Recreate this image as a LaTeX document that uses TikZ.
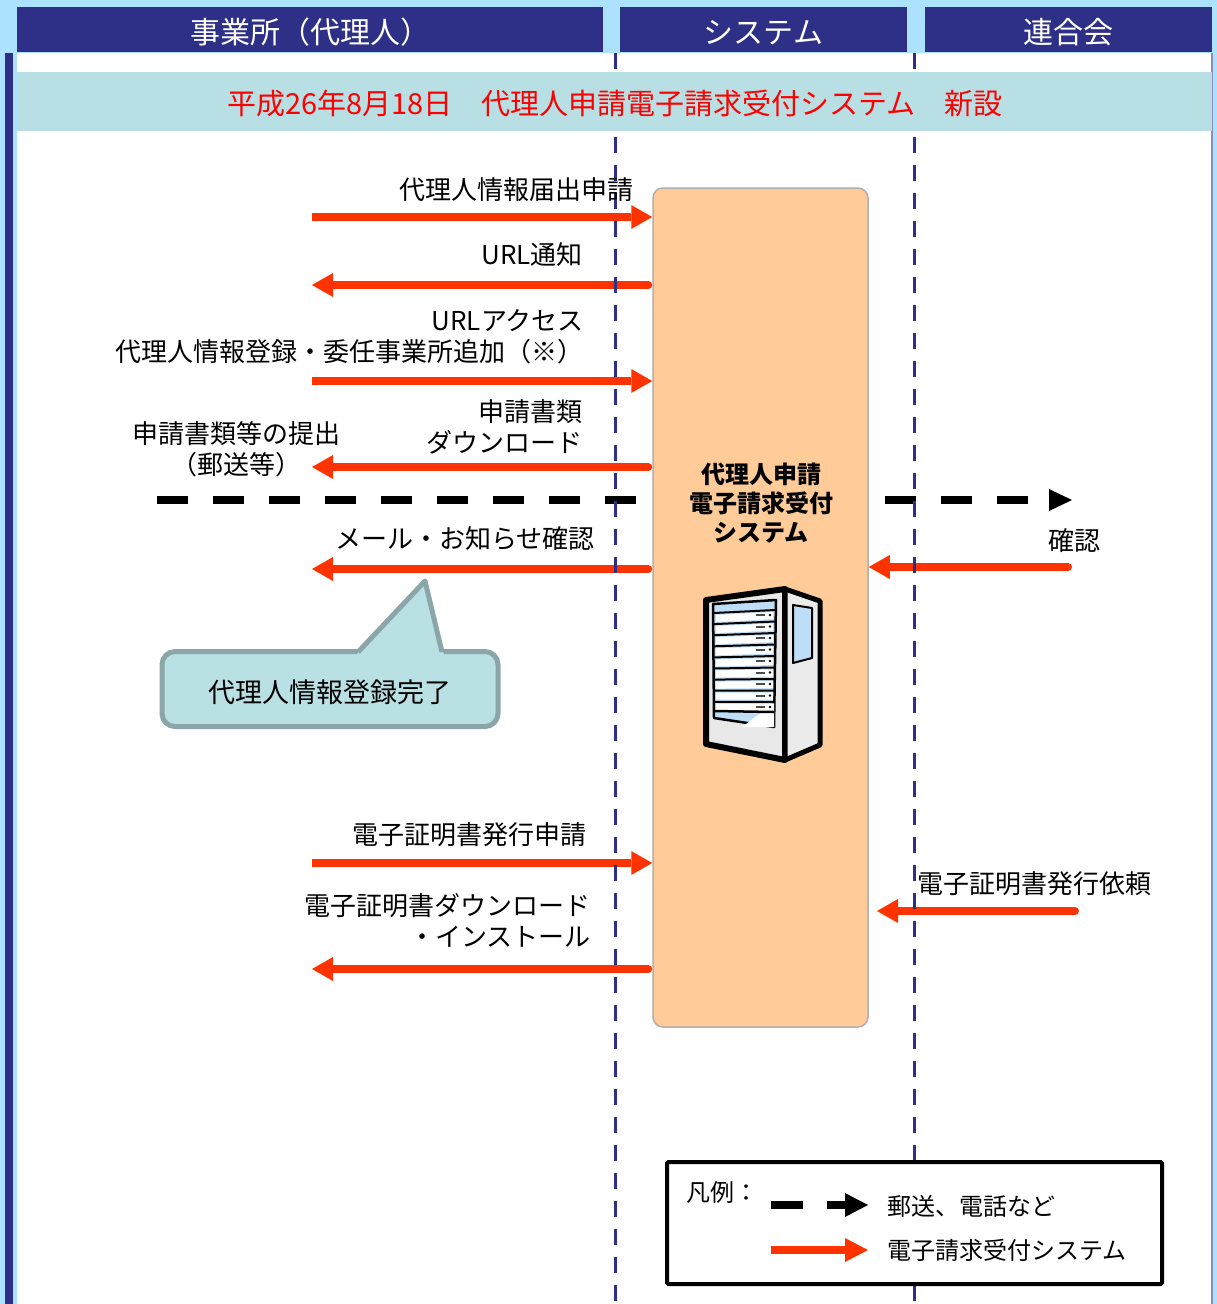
\documentclass[tikz,border=0pt]{standalone}
\usepackage{fontspec}
\setmainfont{Noto Sans CJK JP}
\usetikzlibrary{arrows.meta}
\definecolor{bgblue}{RGB}{173,226,255}
\definecolor{navy}{RGB}{46,48,135}
\definecolor{band}{RGB}{184,224,228}
\definecolor{arr}{RGB}{255,51,0}
\definecolor{peach}{RGB}{255,204,153}
\definecolor{boxline}{RGB}{175,175,175}
\definecolor{cfill}{RGB}{185,224,227}
\definecolor{cline}{RGB}{139,166,168}
\definecolor{srvblue}{RGB}{190,222,248}
\definecolor{srvgray}{RGB}{232,232,232}
\definecolor{titlered}{RGB}{255,0,0}
\newcommand{\lowertxt}[1]{\raisebox{-3pt}[\height][\depth]{#1}}
\begin{document}
\begin{tikzpicture}[x=1pt,y=-1pt,
  hdr/.style={fill=navy,text=white,font=\fontsize{30}{36}\selectfont,inner sep=0pt,minimum height=45pt},
  lbl/.style={inner sep=0pt,font=\fontsize{26}{31}\selectfont},
  lgfont/.style={inner sep=0pt,font=\fontsize{24}{29}\selectfont},
  redarrow/.style={draw=arr,line width=8pt,line cap=round,-{Triangle[length=21pt,width=24pt,line width=0pt]}},
  redright/.style={redarrow,line cap=butt},
  redleft/.style={redarrow,shorten <=4pt},
  blackdash/.style={draw=black,line width=8.5pt,dash pattern=on 31pt off 25pt,-{Triangle[length=23pt,width=22pt,line width=0pt]}},
  vline/.style={draw=navy,line width=3.5pt,dash pattern=on 16pt off 12pt}
]
\useasboundingbox (0,0) rectangle (1217,1304);
% background
\fill[bgblue] (0,0) rectangle (1217,1304);
\fill[white] (17,53) rectangle (1211,1304);
\fill[navy] (5,53) rectangle (13,1304);
\fill[navy!55] (1211,53) rectangle (1213,1304);
% headers
\node[hdr,minimum width=586pt] (h1) at (310,29.5) {\lowertxt{事業所（代理人）}};
\node[hdr,minimum width=287pt] (h2) at (763.5,29.5) {\lowertxt{システム}};
\node[hdr,minimum width=287pt] (h3) at (1068.5,29.5) {\lowertxt{連合会}};
% black dashed arrow (behind system box)
\coordinate (d0) at (157,500);
\coordinate (d1) at (1072,500);
\draw[blackdash] (d0) -- (d1);
% system box
\node[draw=boxline,fill=peach,line width=1.5pt,rounded corners=10pt,minimum width=215pt,minimum height=839pt,inner sep=0pt] (sys) at (760.5,607.5) {};
\node[inner sep=0pt,align=center,font=\bfseries\fontsize{24}{29}\selectfont] (systxt) at (761,503) {代理人申請\\電子請求受付\\システム};
% server icon
\begin{scope}[line join=round]
\filldraw[fill=srvgray,draw=black,line width=6pt] (706,600) -- (785,589) -- (785,760) -- (706,744) -- cycle;
\filldraw[fill=white!92!black,draw=black,line width=5pt] (785,589) -- (820,601) -- (820,745) -- (785,760) -- cycle;
\filldraw[fill=srvblue,draw=black,line width=2pt] (793,605) -- (812,608) -- (812,658) -- (793,663) -- cycle;
\filldraw[fill=srvblue,draw=black,line width=2.5pt] (713,604) -- (776,600) -- (774,727) -- (714,718) -- cycle;
\fill[white] (742,727) -- (774,703) -- (774,727) -- cycle;
\foreach \i in {0,...,8}{
  \pgfmathsetmacro{\yl}{613+11.1*\i}
  \pgfmathsetmacro{\yr}{610+11.5*\i}
  \fill[white] (716,\yl+2) -- (773,\yr+2) -- (773,\yr+9) -- (716,\yl+9) -- cycle;
  \draw[black,line width=2pt] (714,\yl) -- (775,\yr);
  \draw[black!70,line width=2pt] (756,\yr+5) -- (765,\yr+5);
  \fill[black] (770,\yr+5) circle (1.3pt);
}
\draw[black,line width=2.5pt] (714,711) -- (774,712);
\end{scope}
% red arrows
\coordinate (a1) at (312,217);
\draw[redright] (a1) -- (a1 -| sys.west);
\coordinate (a2) at (312,285);
\draw[redleft] (a2 -| sys.west) -- (a2);
\coordinate (a3) at (312,381);
\draw[redright] (a3) -- (a3 -| sys.west);
\coordinate (a4) at (312,467);
\draw[redleft] (a4 -| sys.west) -- (a4);
\coordinate (a5) at (312,569);
\draw[redleft] (a5 -| sys.west) -- (a5);
\coordinate (b1) at (1068,567);
\draw[redarrow] (b1) -- (b1 -| sys.east);
\coordinate (a7) at (312,863);
\draw[redright] (a7) -- (a7 -| sys.west);
\coordinate (b2) at (1075,911);
\coordinate (b2e) at (877,911);
\draw[redarrow] (b2) -- (b2e);
\coordinate (a9) at (312,969);
\draw[redleft] (a9 -| sys.west) -- (a9);
% vertical dashed lanes
\coordinate (v1t) at (615.5,53);
\coordinate (v1b) at (615.5,1304);
\coordinate (v2t) at (914.5,53);
\coordinate (v2b) at (914.5,1304);
\draw[vline] (v1t) -- (v1b);
\draw[vline] (v2t) -- (v2b);
% title band (covers the lanes)
\fill[band] (17,72) rectangle (1212,131);
\node[inner sep=0pt,text=titlered,font=\fontsize{29}{34}\selectfont] (title) at (615,104) {平成26年8月18日　代理人申請電子請求受付システム　新設};
% labels
\node[lbl,anchor=east] (t1) at (634,190) {代理人情報届出申請};
\node[lbl,anchor=east] (t2) at (583,255) {URL通知};
\node[lbl,anchor=east,align=right] (t3) at (584,337) {URLアクセス\\代理人情報登録・委任事業所追加（※）};
\node[lbl,anchor=east,align=right] (t4) at (583,427) {申請書類\\ダウンロード};
\node[lbl,align=center] (t4l) at (236,449) {申請書類等の提出\\（郵送等）};
\node[lbl,anchor=east] (t5) at (595,539) {メール・お知らせ確認};
\node[lbl,anchor=west] (t6) at (1048,541) {確認};
\node[lbl,anchor=east] (t7) at (587,835) {電子証明書発行申請};
\node[lbl,anchor=west] (t8) at (917,884) {電子証明書発行依頼};
\node[lbl,anchor=east,align=right] (t9) at (591,920) {電子証明書ダウンロード\\・インストール};
% callout
\node[draw=cline,fill=cfill,line width=5pt,rounded corners=13pt,minimum width=336pt,minimum height=75pt,inner sep=0pt,font=\fontsize{27}{32}\selectfont] (cb) at (330,689) {\lowertxt{代理人情報登録完了}};
\fill[cfill] (356,655) -- (425,580) -- (444,655) -- cycle;
\draw[cline,line width=5pt,line join=round] (358,652) -- (425,581) -- (442,652);
% legend
\node[draw=black,fill=white,line width=4pt,rounded corners=1.5pt,minimum width=495pt,minimum height=122pt,inner sep=0pt] (lg) at (914.5,1223) {};
\node[lgfont,anchor=west] (lgt) at (686,1192) {凡例：};
\coordinate (la0) at (771,1205);
\coordinate (la1) at (868,1205);
\draw[draw=black,line width=8pt,dash pattern=on 32pt off 24pt,-{Triangle[length=23pt,width=24pt,line width=0pt]}] (la0) -- (la1);
\node[lgfont,anchor=west] (lg1) at (887,1206) {郵送、電話など};
\coordinate (lb0) at (771,1250);
\coordinate (lb1) at (868,1250);
\draw[redarrow,line cap=butt,-{Triangle[length=23pt,width=24pt,line width=0pt]}] (lb0) -- (lb1);
\node[lgfont,anchor=west] (lg2) at (887,1250) {電子請求受付システム};
\end{tikzpicture}
\end{document}
